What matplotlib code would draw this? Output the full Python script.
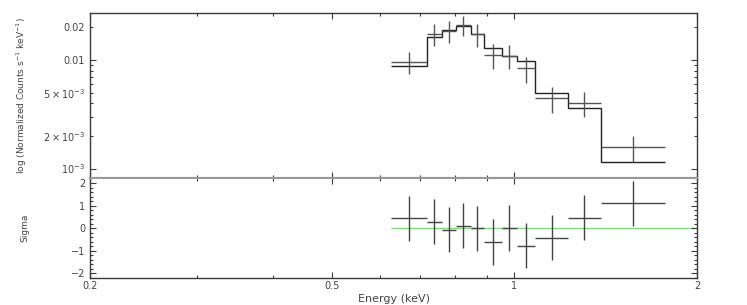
import numpy as np
import matplotlib
matplotlib.use("Agg")
from matplotlib import pyplot as plt

# bin edges (keV)
edges = [0.627, 0.717, 0.759, 0.802, 0.848, 0.892, 0.954, 1.009, 1.082, 1.227, 1.388, 1.771]
# normalized counts s^-1 keV^-1
data = [0.00965, 0.01738, 0.01855, 0.0210, 0.0174, 0.01112, 0.0110, 0.00838, 0.00443, 0.00403, 0.001583]
data_err = [0.0022, 0.0039, 0.0042, 0.0044, 0.0041, 0.0028, 0.0028, 0.0022, 0.00117, 0.00105, 0.00043]
model = [0.00875, 0.01631, 0.0188, 0.0205, 0.0174, 0.01282, 0.0110, 0.00985, 0.00493, 0.00358, 0.001136]
# residuals in sigma
resid = [0.44, 0.29, -0.06, 0.12, 0.0, -0.61, 0.01, -0.77, -0.42, 0.46, 1.11]
resid_err = [1, 1, 1, 1, 1, 1, 1, 1, 1, 1, 1]

edges = np.array(edges)
lo = edges[:-1]
hi = edges[1:]
centers = np.sqrt(lo * hi)
xerr = [centers - lo, hi - centers]

fig = plt.figure(figsize=(7.47, 3.05), dpi=100)
ax1 = fig.add_axes([0.1205, 0.4148, 0.8126, 0.5436])
ax2 = fig.add_axes([0.1205, 0.0885, 0.8126, 0.3263])

line_col = "#3a3a3a"
text_col = "#444444"

ax1.stairs(model, edges, baseline=None, color="#222222", lw=1.0)
ax1.errorbar(centers, data, xerr=xerr, yerr=data_err, fmt="none", ecolor="#555555", elinewidth=1.0, capsize=0)
ax1.set_xscale("log")
ax1.set_yscale("log")
ax1.set_xlim(0.2, 2)
ax1.set_ylim(8.09e-4, 0.02733)

ax2.errorbar(centers, resid, xerr=xerr, yerr=resid_err, fmt="none", ecolor="#444444", elinewidth=1.0, capsize=0)
ax2.hlines(0, edges[0], 2, color="#66ee66", lw=1.0, zorder=1)
ax2.set_xscale("log")
ax2.set_xlim(0.2, 2)
ax2.set_ylim(-2.2, 2.2)

xmajor = [0.2, 0.5, 1, 2]
xminor = [0.3, 0.4, 0.6, 0.7, 0.8, 0.9]
for ax in (ax1, ax2):
    ax.set_xticks(xmajor)
    ax.set_xticks(xminor, minor=True)
    ax.tick_params(which="both", direction="in", top=True, right=True, colors=line_col, labelcolor=text_col, labelsize=7)
    ax.tick_params(which="major", length=4, width=0.8)
    ax.tick_params(which="minor", length=2.5, width=0.8)
    for s in ax.spines.values():
        s.set_color(line_col)
        s.set_linewidth(1.0)

ax1.set_xticklabels([])
ax1.set_xticklabels([], minor=True)
ax2.set_xticklabels(["0.2", "0.5", "1", "2"])
ax2.set_xticklabels([], minor=True)
ax2.tick_params(axis="x", which="major", pad=2)

ax1.set_yticks([1e-3, 1e-2], [r"$10^{-3}$", "0.01"])
ymin = [2e-3, 3e-3, 4e-3, 5e-3, 6e-3, 7e-3, 8e-3, 9e-3, 2e-2]
ymin_lab = [r"$2\times10^{-3}$", "", "", r"$5\times10^{-3}$", "", "", "", "", "0.02"]
ax1.set_yticks(ymin, ymin_lab, minor=True)
ax1.tick_params(axis="y", which="minor", labelsize=7, labelcolor=text_col)

ax2.set_yticks([-2, -1, 0, 1, 2], ["\u22122", "\u22121", "0", "1", "2"])
ax2.set_yticks(np.arange(-2.2, 2.21, 0.2), minor=True)

ax1.spines["bottom"].set_color("#999999")
ax1.spines["bottom"].set_linewidth(1.5)
ax2.spines["top"].set_color("#999999")
ax2.spines["top"].set_linewidth(1.5)

ax1.set_ylabel(r"log (Normalized Counts s$^{-1}$ keV$^{-1}$)", fontsize=6.5, color=text_col)
ax2.set_ylabel("Sigma", fontsize=6.5, color=text_col)
ax2.set_xlabel("Energy (keV)", fontsize=8, color=text_col, labelpad=0)
ax1.yaxis.set_label_coords(-0.1, 0.5)
ax2.yaxis.set_label_coords(-0.1, 0.5)
ax2.xaxis.set_label_coords(0.5, -0.16)

fig.savefig("out.png", dpi=100)
